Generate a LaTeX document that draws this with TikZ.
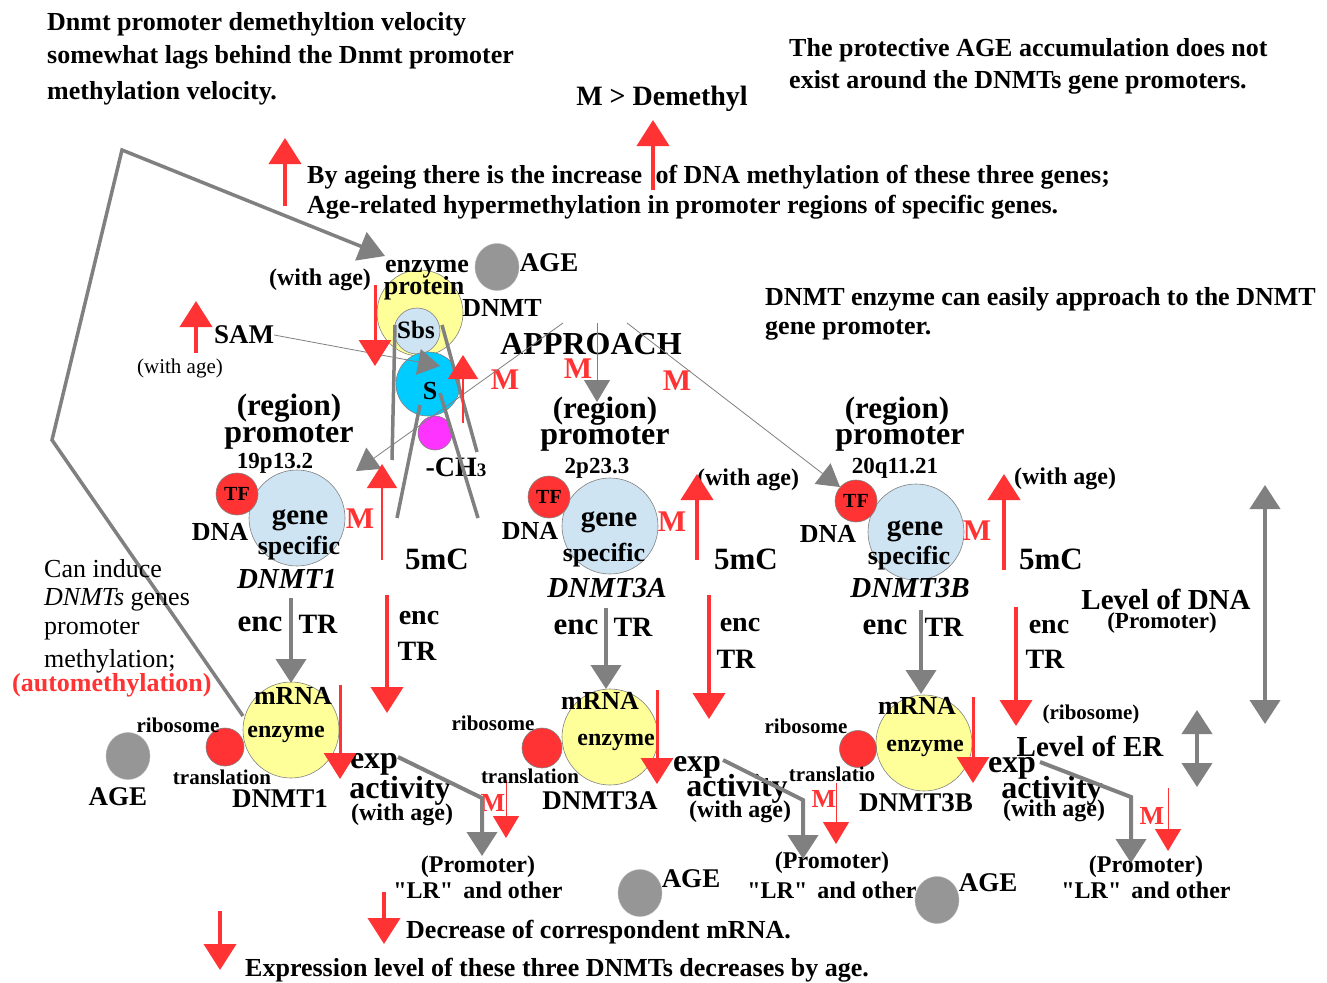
\documentclass[tikz,border=0pt]{standalone}
\usepackage{fontspec}
\setmainfont{Liberation Serif}[Ligatures=TeXOff]
\usetikzlibrary{arrows.meta,shapes.geometric}

\definecolor{redA}{RGB}{255,51,51}
\definecolor{grayA}{RGB}{128,128,128}
\definecolor{ageGray}{RGB}{150,150,150}
\definecolor{yellowA}{RGB}{255,255,153}
\definecolor{blueA}{RGB}{206,228,242}
\definecolor{cyanA}{RGB}{0,204,255}
\definecolor{magentaA}{RGB}{255,51,255}

\newcommand\fsz[1]{\fontsize{#1}{#1}\selectfont}

\begin{document}
\begin{tikzpicture}[x=1pt,y=-1pt,
    txt/.style={inner sep=0pt,font=\fsz{#1}\bfseries},
    txt/.default=26,
    rtxt/.style={inner sep=0pt,font=\fsz{#1}},
    redM/.style={inner sep=0pt,text=redA,font=\fsz{#1}\bfseries},
    redM/.default=30,
    ball/.style={circle,draw=grayA,line width=0.6pt,inner sep=0pt},
    agedot/.style={ellipse,fill=ageGray,draw=ageGray!70,inner sep=0pt,minimum width=44pt,minimum height=47pt},
    redup/.style={draw=redA,line width=4pt,-{Triangle[length=26pt,width=32pt]}},
    redthin/.style={draw=redA,line width=1.2pt,-{Triangle[length=24pt,width=30pt]}},
    redsmall/.style={draw=redA,line width=1pt,-{Triangle[length=22pt,width=26pt]}},
    grayup/.style={draw=grayA,line width=4pt,-{Triangle[length=24pt,width=30pt]}},
    graythin/.style={draw=grayA,line width=0.8pt,-{Triangle[length=22pt,width=26pt]}},
    strand/.style={draw=grayA,line width=3.5pt},
    both/.style={draw=grayA,line width=4pt,{Triangle[length=24pt,width=30pt]}-{Triangle[length=24pt,width=30pt]}}
  ]
  \useasboundingbox[fill=white] (0,0) rectangle (1327,982);

  % Head texts
  \node[txt,anchor=west] (lagA) at (47,24) {Dnmt promoter demethyltion velocity};
  \node[txt,anchor=west] (lagB) at (47,57) {somewhat lags behind the Dnmt promoter};
  \node[txt,anchor=west] (lagC) at (47,93) {methylation velocity.};
  \node[txt,anchor=west] (protA) at (789,50) {The protective AGE accumulation does not};
  \node[txt,anchor=west] (protB) at (789,82) {exist around the DNMTs gene promoters.};
  \node[txt=28] (mdem) at (662,99) {M > Demethyl};
  \node[txt,anchor=west] (ageA) at (307,177) {By ageing there is the increase\hspace{7pt} of DNA methylation of these three genes;};
  \node[txt,anchor=west] (ageB) at (307,207) {Age-related hypermethylation in promoter regions of specific genes.};
  \node[txt,anchor=west] (appA) at (765,299) {DNMT enzyme can easily approach to the DNMT};
  \node[txt,anchor=west] (appB) at (765,330) {gene promoter.};
  \draw[redup] (285,206) -- (285,138);
  \draw[redup] (653,190) -- (653,120);

  % The enzyme and its substrate
  \node[ball,fill=yellowA,minimum size=86pt] (prot) at (420,313) {};
  \node[ball,fill=blueA,minimum size=46pt] (sbs) at (417,331) {};
  \node[ball,fill=cyanA,minimum size=64pt] (sub) at (428,384) {};
  \node[ball,fill=magentaA,minimum size=34pt] (meth) at (435,433) {};
  \node[agedot] (age0) at (497,267) {};
  \node[txt=26] (enzT) at (427,269) {enzyme};
  \node[txt=26] (protT) at (424,288) {protein};
  \node[txt=26] (dnmtT) at (502,308) {DNMT};
  \node[txt=27] (ageT0) at (549,263) {AGE};
  \node[txt=24] (wa0) at (320,280) {(with age)};
  \node[txt=25] (sbsT) at (416,330) {Sbs};
  \node[txt=26] (subT) at (430,391) {S};
  \node[txt=28] (ch3) at (456,467) {-CH{\fsz{19}3}};
  \node[txt=27] (sam) at (244,335) {SAM};
  \node[rtxt=21] (waSam) at (180,368) {(with age)};
  \node[txt=32] (appr) at (591,344) {APPROACH};
  \node[redM] (mA) at (505,380) {M};
  \node[redM] (mB) at (578,369) {M};
  \node[redM] (mC) at (677,381) {M};
  \draw[strand] (395,325) -- (392,460);
  \draw[strand] (442,325) -- (477,452);
  \draw[strand] (420,405) -- (397,518);
  \draw[strand] (440,393) -- (478,518);
  \draw[graythin] (sam.east) -- (440,366);
  \draw[graythin] (563,323) -- (356,471);
  \draw[graythin] (597,323) -- (597,402);
  \draw[graythin] (627,323) -- (840,487);
  \draw[redup,line width=3pt] (375,285) -- (375,366);
  \draw[redthin] (463,423) -- (463,355);
  \draw[redup] (196,353) -- (196,301);
  \draw[draw=grayA,line width=3.5pt,-{Triangle[length=26pt,width=30pt]}]
    (243,716) -- (52,440) -- (122,150) -- (385,256);

  % DNMT1
  \node[ball,fill=blueA,minimum size=96pt] (geneA) at (297,518) {};
  \node[ball,fill=redA,minimum size=42pt] (tfA) at (237,494) {};
  \node[ball,fill=yellowA,minimum size=96pt] (mrnaA) at (291,730) {};
  \node[ball,fill=redA,minimum size=38pt] (riboA) at (225,747) {};
  \node[agedot] (ageA0) at (128,756) {};
  \node[txt=31] (regA) at (289,408) {(region)};
  \node[txt=32] (promA) at (289,437) {promoter};
  \node[txt=23] (locA) at (275,463) {19p13.2};
  \node[txt=20] at (tfA) {TF};
  \node[txt=26] (dnaA) at (220,532) {DNA};
  \node[txt=29] (geneTA) at (300,520) {gene};
  \node[txt=26] (specA) at (299,548) {specific};
  \node[txt=29,font=\fsz{29}\bfseries\itshape] (nameA) at (287,579) {DNMT1};
  \node[redM] (mgA) at (360,519) {M};
  \node[txt=31] (fmcA) at (437,559) {5mC};
  \node[txt=31] (encA) at (260,624) {enc};
  \node[txt=28] (trA) at (318,624) {TR};
  \node[txt=28] (encrA) at (419,618) {enc};
  \node[txt=28] (trrA) at (417,651) {TR};
  \node[txt=26] (mrA) at (293,696) {mRNA};
  \node[txt=24] (enA) at (286,734) {enzyme};
  \node[txt=21] (ribA) at (178,725) {ribosome};
  \node[txt=21] (trlA) at (222,777) {translation};
  \node[txt=27] (dnA) at (280,799) {DNMT1};
  \node[txt=27] (agTA) at (118,797) {AGE};
  \node[txt=32] (expA) at (374,764) {exp};
  \node[txt=32] (actA) at (400,791) {activity};
  \node[txt=24] (waA) at (402,815) {(with age)};
  \node[redM=26] (msA) at (493,803) {M};
  \node[txt=24] (lrpA) at (478,867) {(Promoter)};
  \node[txt=24] (lrA) at (478,890) {"LR"\, and other};
  \draw[grayup] (291,598) -- (291,683);
  \draw[redthin] (382,560) -- (382,464);
  \draw[redup] (387,595) -- (387,713);
  \draw[redup,line width=3pt] (340,685) -- (340,779);
  \draw[grayup] (398,757) -- (482,798) -- (482,856);
  \draw[redsmall] (506,780) -- (506,838);

  % DNMT3A
  \node[ball,fill=blueA,minimum size=96pt] (geneB) at (610,526) {};
  \node[ball,fill=redA,minimum size=42pt] (tfB) at (549,497) {};
  \node[ball,fill=yellowA,minimum size=96pt] (mrnaB) at (610,737) {};
  \node[ball,fill=redA,minimum size=40pt] (riboB) at (542,748) {};
  \node[agedot] (ageB0) at (640,893) {};
  \node[txt=31] (regB) at (605,411) {(region)};
  \node[txt=32] (promB) at (605,439) {promoter};
  \node[txt=23] (locB) at (597,468) {2p23.3};
  \node[txt=20] at (tfB) {TF};
  \node[txt=26] (dnaB) at (530,531) {DNA};
  \node[txt=29] (geneTB) at (609,522) {gene};
  \node[txt=26] (specB) at (604,555) {specific};
  \node[txt=29,font=\fsz{29}\bfseries\itshape] (nameB) at (607,588) {DNMT3A};
  \node[redM] (mgB) at (672,522) {M};
  \node[txt=24] (wgB) at (748,480) {(with age)};
  \node[txt=31] (fmcB) at (746,559) {5mC};
  \node[txt=31] (encB) at (576,627) {enc};
  \node[txt=28] (trB) at (633,627) {TR};
  \node[txt=28] (encrB) at (740,625) {enc};
  \node[txt=28] (trrB) at (736,659) {TR};
  \node[txt=26] (mrB) at (600,701) {mRNA};
  \node[txt=24] (enB) at (616,742) {enzyme};
  \node[txt=21] (ribB) at (493,723) {ribosome};
  \node[txt=21] (trlB) at (530,776) {translation};
  \node[txt=27] (dnB) at (600,801) {DNMT3A};
  \node[txt=27] (agTB) at (691,879) {AGE};
  \node[txt=32] (expB) at (697,767) {exp};
  \node[txt=32] (actB) at (737,789) {activity};
  \node[txt=24] (waB) at (740,812) {(with age)};
  \node[redM=26] (msB) at (824,799) {M};
  \node[txt=24] (lrpB) at (832,863) {(Promoter)};
  \node[txt=24] (lrB) at (832,890) {"LR"\, and other};
  \draw[grayup] (606,608) -- (606,689);
  \draw[redup] (697,560) -- (697,474);
  \draw[redup] (709,595) -- (709,719);
  \draw[redup,line width=3pt] (657,690) -- (657,784);
  \draw[grayup] (723,760) -- (803,800) -- (803,859);
  \draw[redsmall] (836,783) -- (836,844);

  % DNMT3B
  \node[ball,fill=blueA,minimum size=96pt] (geneC) at (916,532) {};
  \node[ball,fill=redA,minimum size=42pt] (tfC) at (856,501) {};
  \node[ball,fill=yellowA,minimum size=96pt] (mrnaC) at (924,743) {};
  \node[ball,fill=redA,minimum size=37pt] (riboC) at (858,749) {};
  \node[agedot] (ageC0) at (937,900) {};
  \node[txt=31] (regC) at (897,411) {(region)};
  \node[txt=32] (promC) at (900,439) {promoter};
  \node[txt=23] (locC) at (895,468) {20q11.21};
  \node[txt=20] at (tfC) {TF};
  \node[txt=26] (dnaC) at (828,534) {DNA};
  \node[txt=29] (geneTC) at (915,531) {gene};
  \node[txt=26] (specC) at (909,558) {specific};
  \node[txt=29,font=\fsz{29}\bfseries\itshape] (nameC) at (910,588) {DNMT3B};
  \node[redM] (mgC) at (977,531) {M};
  \node[txt=24] (wgC) at (1065,479) {(with age)};
  \node[txt=31] (fmcC) at (1051,559) {5mC};
  \node[txt=31] (encC) at (885,627) {enc};
  \node[txt=28] (trC) at (944,627) {TR};
  \node[txt=28] (encrC) at (1049,627) {enc};
  \node[txt=28] (trrC) at (1045,659) {TR};
  \node[txt=26] (mrC) at (917,706) {mRNA};
  \node[txt=24] (enC) at (925,748) {enzyme};
  \node[txt=21] (ribC) at (806,726) {ribosome};
  \node[txt=21] (trlC) at (832,774) {translatio};
  \node[txt=27] (dnC) at (916,803) {DNMT3B};
  \node[txt=27] (agTC) at (988,883) {AGE};
  \node[txt=32] (expC) at (1012,768) {exp};
  \node[txt=32] (actC) at (1052,791) {activity};
  \node[txt=24] (waC) at (1054,811) {(with age)};
  \node[redM=26] (msC) at (1152,816) {M};
  \node[txt=24] (lrpC) at (1146,867) {(Promoter)};
  \node[txt=24] (lrC) at (1146,890) {"LR"\, and other};
  \draw[grayup] (921,610) -- (921,694);
  \draw[redup] (1004,570) -- (1004,474);
  \draw[redup] (1016,607) -- (1016,726);
  \draw[redup,line width=3pt] (973,697) -- (973,783);
  \draw[grayup] (1040,762) -- (1131,797) -- (1131,863);
  \draw[redsmall] (1168,788) -- (1168,851);

  % Levels
  \node[txt=29] (lvDna) at (1166,599) {Level of DNA};
  \node[txt=23] (lvDnaP) at (1162,623) {(Promoter)};
  \node[txt=21] (lvRib) at (1091,714) {(ribosome)};
  \node[txt=29] (lvEr) at (1090,746) {Level of ER};
  \draw[both] (1265,485) -- (1265,724);
  \draw[both] (1197,710) -- (1197,787);

  % Left note
  \node[rtxt=26,anchor=west] (indA) at (44,569) {Can induce};
  \node[rtxt=26,anchor=west] (indB) at (44,600) {\textit{DNMTs} genes};
  \node[rtxt=26,anchor=west] (indC) at (44,630) {promoter};
  \node[rtxt=26,anchor=west] (indD) at (44,661) {methylation;};
  \node[redM=26,anchor=west] (auto) at (12,685) {(automethylation)};

  % Bottom notes
  \node[txt,anchor=west] (decA) at (406,932) {Decrease of correspondent mRNA.};
  \node[txt,anchor=west] (decB) at (245,970) {Expression level of these three DNMTs decreases by age.};
  \draw[redup] (384,892) -- (384,944);
  \draw[redup] (220,911) -- (220,970);
\end{tikzpicture}
\end{document}
